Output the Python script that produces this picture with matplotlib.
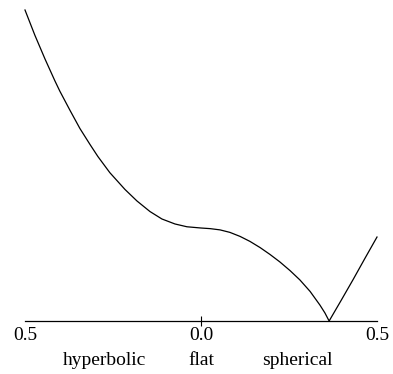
import matplotlib
matplotlib.use("Agg")
import matplotlib.pyplot as plt
from matplotlib.transforms import blended_transform_factory

# curvature parameter (axis runs from hyperbolic -0.5 to spherical +0.5)
curvature = [-0.500, -0.472, -0.443, -0.415, -0.401, -0.372, -0.344, -0.315,
             -0.293, -0.259, -0.216, -0.182, -0.145, -0.111, -0.074, -0.040,
             0.000, 0.026, 0.054, 0.082, 0.111, 0.139, 0.168, 0.196, 0.224,
             0.253, 0.281, 0.310, 0.338, 0.352, 0.364, 0.398, 0.432, 0.466, 0.500]
# plotted quantity (arbitrary units, baseline = 0)
value = [1.000, 0.919, 0.842, 0.772, 0.739, 0.677, 0.619, 0.567,
         0.529, 0.477, 0.423, 0.386, 0.352, 0.328, 0.312, 0.303,
         0.299, 0.297, 0.293, 0.285, 0.272, 0.256, 0.236, 0.214, 0.190,
         0.162, 0.132, 0.095, 0.051, 0.026, 0.000, 0.066, 0.133, 0.202, 0.270]

tick_pos = [-0.5, 0.0, 0.5]
tick_labels = ["0.5", "0.0", "0.5"]
region_pos = [-0.273, 0.0, 0.273]
region_labels = ["hyperbolic", "flat", "spherical"]

plt.rcParams["font.family"] = ["Liberation Serif", "DejaVu Serif"]

W, H = 393, 374
fig = plt.figure(figsize=(W / 100, H / 100), dpi=100)
ax = fig.add_axes([25 / W, 53 / H, 352 / W, 311 / H])

ax.plot(curvature, value, color="black", lw=0.9, clip_on=False,
        solid_joinstyle="round")

ax.set_xlim(-0.5, 0.5)
ax.set_ylim(0, 1.0)
for s in ["top", "left", "right"]:
    ax.spines[s].set_visible(False)
ax.spines["bottom"].set_linewidth(0.9)
ax.set_yticks([])
ax.set_xticks(tick_pos)
ax.set_xticklabels(tick_labels, fontsize=14)
ax.tick_params(axis="x", direction="inout", length=7.2, width=0.8, pad=0.5)
ticks = ax.xaxis.get_major_ticks()
ticks[0].tick1line.set_visible(False)
ticks[2].tick1line.set_visible(False)

tr = blended_transform_factory(ax.transData, fig.transFigure)
for xp, lab in zip(region_pos, region_labels):
    ax.text(xp, (H - 365) / H, lab, transform=tr, ha="center", va="baseline",
            fontsize=14)

fig.savefig("out.png", dpi=100)
